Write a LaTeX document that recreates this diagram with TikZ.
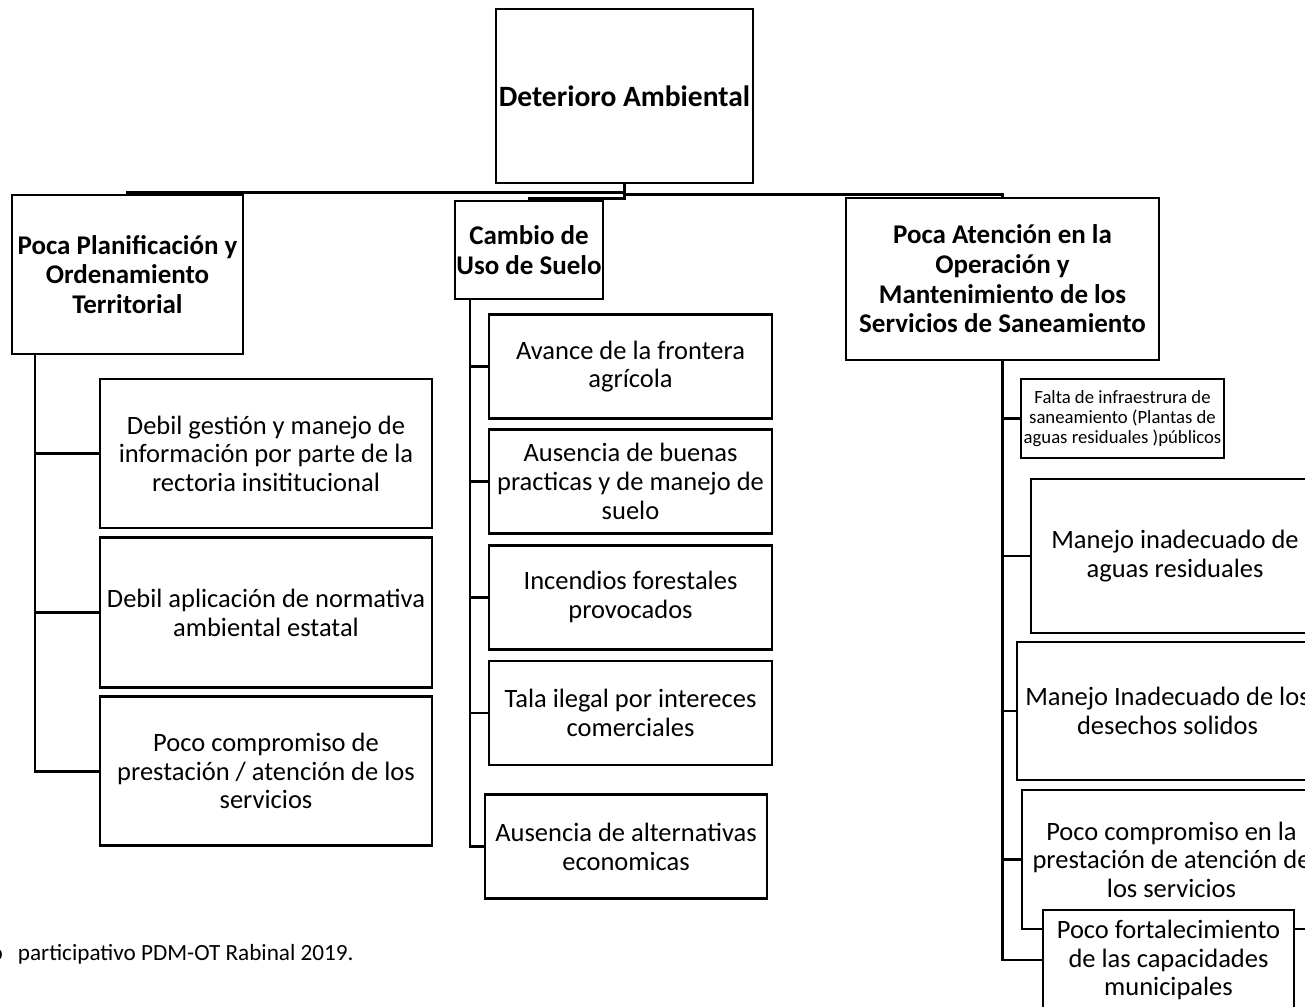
\documentclass[tikz,border=0pt]{standalone}
\usepackage{fontspec}
\setmainfont{Carlito}
\usepackage{tikz}
\usetikzlibrary{positioning}

\begin{document}
\begin{tikzpicture}[x=0.5pt, y=-0.5pt, line width=1.4pt,
    cause/.style={draw, rectangle, fill=white, align=center, inner sep=0pt, font=\bfseries\fontsize{13.5pt}{14.85pt}\selectfont},
    effect/.style={draw, rectangle, fill=white, align=center, inner sep=0pt, font=\fontsize{13.25pt}{14.3pt}\selectfont},
    note/.style={anchor=base east, inner sep=0pt, font=\fontsize{11.6pt}{13pt}\selectfont}]
    \useasboundingbox (0,0) rectangle (1305,1006);

    % problema central
    \node[cause, minimum width=128.5pt, minimum height=87pt, font=\bfseries\fontsize{14.75pt}{16pt}\selectfont] (root) at (624.5,96) {Deterioro Ambiental};

    % causas
    \node[cause, minimum width=115.5pt, minimum height=79.5pt] (p1) at (127.5,274.5) {Poca Planificación y\\Ordenamiento\\Territorial};
    \node[cause, minimum width=74pt, minimum height=49pt] (p2) at (529,250) {Cambio de\\Uso de Suelo};
    \node[cause, minimum width=156.5pt, minimum height=81pt] (p3) at (1002.5,279) {Poca Atención en la\\Operación y\\Mantenimiento de los\\Servicios de Saneamiento};

    % planificacion
    \node[effect, minimum width=166pt, minimum height=74.5pt] (c11) at (266,453.5) {Debil gestión y manejo de\\información por parte de la\\rectoria insititucional};
    \node[effect, minimum width=166pt, minimum height=75pt, below=3.5pt of c11] (c12) {Debil aplicación de normativa\\ambiental estatal};
    \node[effect, minimum width=166pt, minimum height=74.5pt, below=3pt of c12] (c13) {Poco compromiso de\\prestación / atención de los\\servicios};

    % uso de suelo
    \node[effect, minimum width=141.5pt, minimum height=52pt] (c21) at (630.5,366.5) {Avance de la frontera\\agrícola};
    \node[effect, minimum width=141.5pt, minimum height=52pt, below=4pt of c21] (c22) {Ausencia de buenas\\practicas y de manejo de\\suelo};
    \node[effect, minimum width=141.5pt, minimum height=52pt, below=4.5pt of c22] (c23) {Incendios forestales\\provocados};
    \node[effect, minimum width=141.5pt, minimum height=52pt, below=4.5pt of c23] (c24) {Tala ilegal por intereces\\comerciales};
    \node[effect, minimum width=141pt, minimum height=52pt, below=13.5pt of c24, xshift=-2.25pt] (c25) {Ausencia de alternativas\\economicas};

    % saneamiento
    \node[effect, minimum width=101.5pt, minimum height=39.5pt, font=\fontsize{9.35pt}{10pt}\selectfont] (c31) at (1122.5,418.5) {Falta de infraestrura de\\saneamiento (Plantas de\\aguas residuales )públicos};
    \node[effect, minimum width=144pt, minimum height=77pt] (c32) at (1175,556) {Manejo inadecuado de\\aguas residuales};
    \node[effect, minimum width=150.5pt, minimum height=69pt] (c33) at (1167.5,711) {Manejo Inadecuado de los\\desechos solidos};
    \node[effect, minimum width=149.5pt, minimum height=69.5pt] (c34) at (1171.5,859.5) {Poco compromiso en la\\prestación de atención de\\los servicios};
    \node[effect, minimum width=125.5pt, minimum height=50pt] (c35) at (1168.5,960) {Poco fortalecimiento\\de las capacidades\\municipales};

    \node[note] (src) at (355,960) {o\hspace{7.5pt}participativo PDM-OT Rabinal 2019.};

    % conectores
    \draw (root.south) -- ++(0,8) -| (p1.north);
    \draw (root.south) -- ++(0,10) -| (p3.north);
    \draw (root.south) -- ++(0,14) -| (p2.north);

    \coordinate (bus1) at (35,354);
    \coordinate (bus2) at (470,299);
    \coordinate (bus3) at (1002.5,360);
    \foreach \c in {c11,c12,c13}
        \draw (bus1) |- (\c.west);
    \foreach \c in {c21,c22,c23,c24,c25}
        \draw (bus2) |- (\c.west);
    \foreach \c in {c31,c32,c33,c34,c35}
        \draw (bus3) |- (\c.west);
\end{tikzpicture}
\end{document}
